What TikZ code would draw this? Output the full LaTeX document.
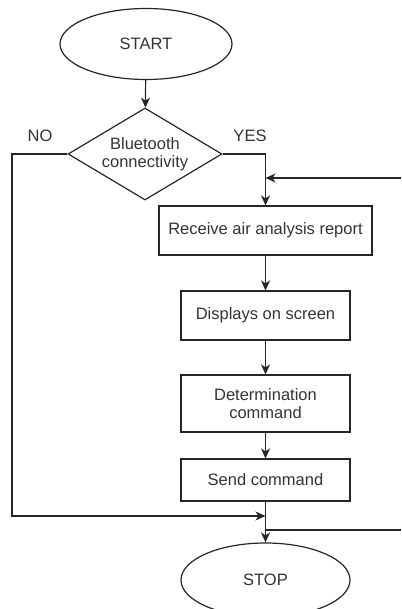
\documentclass[tikz,border=0pt]{standalone}
\usepackage{fontspec}
\setmainfont{Liberation Sans}
\usetikzlibrary{shapes.geometric,arrows.meta}
\begin{document}
\begin{tikzpicture}[x=1pt,y=-1pt,
  every node/.style={font=\fontsize{16.5}{17.5}\selectfont, text=black!80},
  line/.style={draw=black!85, line width=1.2pt},
  arr/.style={line, -{Stealth[length=10pt,width=9pt,inset=3pt]}},
  term/.style={line, ellipse, minimum width=172pt, minimum height=71pt, inner sep=0pt},
  proc/.style={line, rectangle, minimum height=49pt, inner sep=2pt, align=center},
  dec/.style={line, diamond, minimum width=154pt, minimum height=92pt, inner sep=0pt, align=center, aspect=1.67}]
\useasboundingbox (0,0) rectangle (401,609);
\node[term] (start) at (146,44) {START};
\node[dec] (bt) at (145,154) {Bluetooth\\connectivity};
\node[proc, minimum width=213pt] (recv) at (265.5,230.5) {Receive air analysis report};
\node[proc, minimum width=169pt] (disp) at (265.5,315.5) {Displays on screen};
\node[proc, minimum width=169pt, minimum height=57pt, text width=160pt] (det) at (265.5,403.5) {Determination\\command};
\node[proc, minimum width=169pt, minimum height=42pt] (send) at (265.5,480) {Send command};
\node[term, minimum width=169pt, minimum height=74pt] (stop) at (265.5,580) {STOP};
\node (no) at (40,136) {NO};
\node (yes) at (250,136) {YES};
\coordinate (fbin) at (401,178);
\coordinate (fbout) at (401,530);
\coordinate (nocorner) at (12,154);
\coordinate (nobot) at (12,516);
\coordinate (yescorner) at (265.5,154);
\coordinate (join) at (265.5,516);
\draw[arr] (start) -- (bt);
\draw[arr] (bt.east) -- (yescorner) -- (recv.north);
\draw[arr] (fbin) -- (265.5,178);
\draw[arr] (recv) -- (disp);
\draw[arr] (disp) -- (det);
\draw[arr] (det) -- (send);
\draw[arr] (send) -- (stop);
\draw[arr] (bt.west) -- (nocorner) -- (nobot) -- (join);
\draw[line] (265.5,530) -- (fbout);
\end{tikzpicture}
\end{document}
